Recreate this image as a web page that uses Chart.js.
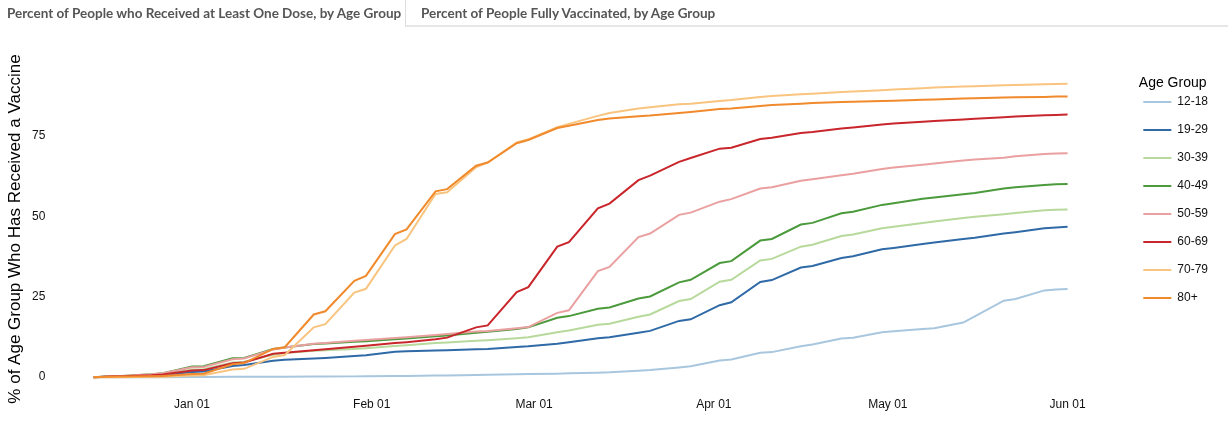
<!DOCTYPE html>
<html>
<head>
<meta charset="utf-8">
<script src="https://cdn.jsdelivr.net/npm/chart.js@4.4.1/dist/chart.umd.min.js"></script>
<style>
  html, body { margin: 0; padding: 0; background: #fff; }
  body { width: 1228px; height: 444px; position: relative; overflow: hidden; }
  .tabs { position: absolute; left: 0; top: 0; width: 1228px; height: 27px; z-index: 2;
          font-family: Lato, sans-serif; font-weight: bold; font-size: 13.5px; color: #555; }
  .tab { position: absolute; top: 0; box-sizing: border-box; height: 27px; line-height: 26px; white-space: nowrap; }
  .tab1 { left: 0; width: 405px; padding-left: 7px; }
  .tab2 { left: 405px; right: 0; padding-left: 15px; border-left: 1px solid #ddd; border-bottom: 2px solid #e6e6e6; }
  #chartCanvas { position: absolute; left: 0; top: 0; }
</style>
</head>
<body>
<div class="tabs">
  <div class="tab tab1">Percent of People who Received at Least One Dose, by Age Group</div>
  <div class="tab tab2">Percent of People Fully Vaccinated, by Age Group</div>
</div>
<canvas id="chartCanvas" width="1228" height="444"></canvas>
<script>
// days counted from Jan 01 2021 (Fridays and Sundays, weekend plateaus)
const days = [-17, -14, -12, -7, -5, 0, 2, 7, 9, 14, 16, 21, 23, 28, 30, 35, 37, 42, 44, 49, 51, 56, 58, 63, 65,
  70, 72, 77, 79, 84, 86, 91, 93, 98, 100, 105, 107, 112, 114, 119, 121, 126, 128, 133, 135, 140, 142, 147, 149, 151];

const groups = ['12-18', '19-29', '30-39', '40-49', '50-59', '60-69', '70-79', '80+'];
const colors = ['#a8c7de', '#2f6aa7', '#b7d99b', '#4b9a3c', '#eaa0a0', '#c9262c', '#f8c47f', '#f08a2c'];

const age12 = [0, 0, 0, 0, 0, 0.05, 0.05, 0.1, 0.1, 0.15, 0.15, 0.2, 0.2, 0.25, 0.3, 0.35, 0.4, 0.5, 0.55, 0.7, 0.75, 0.9, 1.0, 1.1, 1.2,
  1.4, 1.5, 2.0, 2.2, 3.0, 3.4, 5.2, 5.5, 7.6, 7.8, 9.6, 10.2, 12.0, 12.3, 14.0, 14.3, 15.0, 15.2, 17.0, 18.9, 23.8, 24.3, 27.0, 27.3, 27.4];
const age19 = [0, 0.2, 0.3, 0.5, 0.7, 1.6, 1.8, 3.5, 3.8, 5.1, 5.4, 5.8, 6.0, 6.6, 6.8, 7.9, 8.1, 8.3, 8.4, 8.7, 8.8, 9.4, 9.6, 10.4, 10.9,
  12.1, 12.4, 13.8, 14.4, 17.5, 18.0, 22.4, 23.3, 29.6, 30.2, 34.1, 34.6, 37.1, 37.6, 39.8, 40.2, 41.4, 41.9, 43.0, 43.4, 44.7, 45.1, 46.3, 46.6, 46.8];
const age30 = [0, 0.2, 0.3, 0.6, 0.8, 2.4, 2.5, 4.6, 4.8, 7.0, 7.5, 8.2, 8.4, 8.8, 9.0, 9.7, 9.9, 10.6, 10.8, 11.3, 11.5, 12.1, 12.4, 14.0, 14.5,
  16.3, 16.6, 18.8, 19.5, 23.7, 24.3, 29.7, 30.3, 36.3, 36.8, 40.6, 41.2, 43.9, 44.4, 46.3, 46.8, 48.0, 48.4, 49.5, 49.9, 50.7, 51.1, 51.9, 52.1, 52.2];
const age40 = [0, 0.3, 0.4, 0.9, 1.2, 3.3, 3.4, 5.9, 6.0, 8.8, 9.2, 10.3, 10.5, 11.0, 11.2, 11.8, 12.0, 12.7, 13.0, 13.8, 14.1, 15.0, 15.5, 18.5, 19.0,
  21.3, 21.7, 24.5, 25.1, 29.5, 30.3, 35.5, 36.1, 42.5, 43.0, 47.5, 48.0, 51.0, 51.5, 53.6, 54.1, 55.5, 55.9, 56.9, 57.3, 58.7, 59.1, 59.8, 60.0, 60.1];
const age50 = [0, 0.3, 0.4, 0.9, 1.2, 3.1, 3.2, 5.6, 5.8, 8.6, 9.2, 10.4, 10.6, 11.3, 11.6, 12.2, 12.4, 13.1, 13.4, 14.2, 14.4, 15.2, 15.6, 20.0, 20.8,
  33.0, 34.3, 43.6, 44.7, 50.5, 51.2, 54.6, 55.4, 58.7, 59.1, 61.1, 61.6, 62.8, 63.3, 64.8, 65.2, 66.1, 66.5, 67.4, 67.7, 68.3, 68.7, 69.4, 69.6, 69.7];
const age60 = [0, 0.2, 0.3, 0.6, 0.8, 2.1, 2.2, 4.3, 4.6, 7.3, 7.6, 8.4, 8.7, 9.5, 9.8, 10.6, 10.9, 11.8, 12.3, 15.5, 16.1, 26.5, 28.0, 40.6, 42.0,
  52.5, 54.0, 61.3, 62.7, 67.0, 68.2, 71.1, 71.4, 74.1, 74.5, 76.0, 76.3, 77.4, 77.7, 78.6, 78.9, 79.5, 79.7, 80.2, 80.4, 80.9, 81.1, 81.5, 81.6, 81.7];
const age70 = [0, 0, 0, 0.1, 0.1, 0.5, 0.6, 2.4, 2.6, 6.3, 6.9, 15.5, 16.5, 26.3, 27.5, 41.0, 43.0, 57.0, 57.5, 65.3, 66.8, 73.0, 74.0, 77.8, 78.8,
  81.3, 82.2, 83.6, 84.0, 84.9, 85.1, 85.9, 86.2, 87.2, 87.5, 88.0, 88.2, 88.7, 88.9, 89.3, 89.5, 89.9, 90.1, 90.4, 90.5, 90.8, 90.9, 91.1, 91.2, 91.3];
const age80 = [0, 0.1, 0.2, 0.3, 0.4, 1.0, 1.1, 4.0, 4.4, 8.8, 9.3, 19.5, 20.5, 30.0, 31.5, 44.5, 46.0, 57.8, 58.5, 65.8, 66.8, 72.8, 73.8, 77.5, 78.2,
  80.0, 80.5, 81.2, 81.4, 82.2, 82.5, 83.4, 83.6, 84.4, 84.7, 85.1, 85.3, 85.6, 85.7, 85.9, 86.0, 86.3, 86.4, 86.7, 86.8, 87.0, 87.1, 87.2, 87.3, 87.3];

const series = [age12, age19, age30, age40, age50, age60, age70, age80];

const xTicks = [0, 31, 59, 90, 120, 151];
const xTickLabels = ['Jan 01', 'Feb 01', 'Mar 01', 'Apr 01', 'May 01', 'Jun 01'];
const yTicks = [0, 25, 50, 75];

Chart.defaults.font.family = "'Liberation Sans', Arial, sans-serif";
Chart.defaults.color = '#111';

const ctx = document.getElementById('chartCanvas').getContext('2d');

const chart = new Chart(ctx, {
  type: 'line',
  data: {
    labels: days,
    datasets: groups.map((g, i) => ({
      label: g,
      data: series[i],
      borderColor: colors[i],
      backgroundColor: colors[i],
      borderWidth: 2,
      pointRadius: 0,
      tension: 0,
      fill: false,
      order: groups.length - i   // 80+ drawn on top
    }))
  },
  options: {
    responsive: false,
    animation: false,
    layout: {
      padding: { top: 76, right: 10, bottom: 22, left: 0 }
    },
    plugins: {
      tooltip: { enabled: false },
      legend: {
        position: 'right',
        align: 'start',
        title: {
          display: true,
          text: 'Age Group',
          color: '#000',
          font: { size: 14 },
          padding: { top: 0, bottom: -12.8 }
        },
        labels: {
          usePointStyle: true,
          pointStyle: 'line',
          pointStyleWidth: 28,
          boxHeight: 12,
          padding: 16,
          color: '#111',
          font: { size: 12 },
          sort: (a, b) => a.datasetIndex - b.datasetIndex
        }
      }
    },
    scales: {
      x: {
        type: 'linear',
        min: -17,
        max: 161.3,
        grid: { display: false, drawTicks: false },
        border: { display: false },
        afterBuildTicks: (s) => { s.ticks = xTicks.map(v => ({ value: v })); },
        afterFit: (s) => { s.height = 40; },
        ticks: {
          autoSkip: false,
          maxRotation: 0,
          padding: 15,
          font: { size: 12 },
          callback: (v, i) => xTickLabels[i]
        }
      },
      y: {
        min: -1.5,
        max: 93.7,
        grid: { display: false, drawTicks: false },
        border: { display: false },
        afterBuildTicks: (s) => { s.ticks = yTicks.map(v => ({ value: v })); },
        afterFit: (s) => { s.width = 93.4; },
        ticks: {
          padding: 48,
          font: { size: 12 },
          callback: (v) => String(v)
        },
        title: {
          display: true,
          text: '% of Age Group Who Has Received a Vaccine',
          color: '#000',
          font: { size: 17 },
          padding: { top: 5, bottom: 0 }
        }
      }
    }
  }
});
</script>
</body>
</html>
